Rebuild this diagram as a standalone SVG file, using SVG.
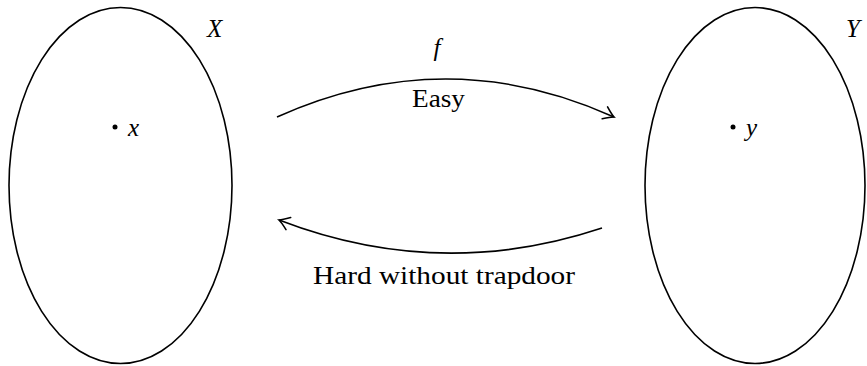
<svg xmlns="http://www.w3.org/2000/svg" width="867" height="366" viewBox="0 0 867 366">
<style>
.set{fill:none;stroke:#000;stroke-width:1.6}
.conn{fill:none;stroke:#000;stroke-width:1.6}
.t{font-family:"Liberation Serif","Times New Roman",serif;font-size:25px;fill:#000}
.m{font-family:"Liberation Serif","Times New Roman",serif;font-size:25px;font-style:italic;fill:#000}
</style>
<defs>
<marker id="to" markerUnits="userSpaceOnUse" viewBox="-12 -8 14 16" refX="0" refY="0" markerWidth="14" markerHeight="16" orient="auto">
<path d="M-10,-6.5 Q-3,-1.2 0,0 Q-3,1.2 -10,6.5" fill="none" stroke="#000" stroke-width="1.6" stroke-linecap="round"/>
</marker>
</defs>
<g id="setX">
<ellipse class="set" cx="120.5" cy="185.5" rx="111.5" ry="178"/>
<circle cx="115" cy="127" r="2.5"/>
<text class="m" x="128" y="136">x</text>
<text class="m" x="207" y="37">X</text>
</g>
<g id="setY">
<ellipse class="set" cx="755" cy="185.5" rx="110" ry="178"/>
<circle cx="733" cy="127" r="2.5"/>
<text class="m" x="746" y="136">y</text>
<text class="m" x="846" y="37">Y</text>
</g>
<g id="connectors">
<path class="conn" d="M277,117 Q446,41 614,117" marker-end="url(#to)"/>
<path class="conn" d="M602,228 Q440,282 279,220" marker-end="url(#to)"/>
<text class="m" x="437" y="56" text-anchor="middle">f</text>
<text class="t" x="412" y="107" textLength="53" lengthAdjust="spacingAndGlyphs">Easy</text>
<text class="t" x="313" y="284" textLength="262" lengthAdjust="spacingAndGlyphs">Hard without trapdoor</text>
</g>
</svg>
